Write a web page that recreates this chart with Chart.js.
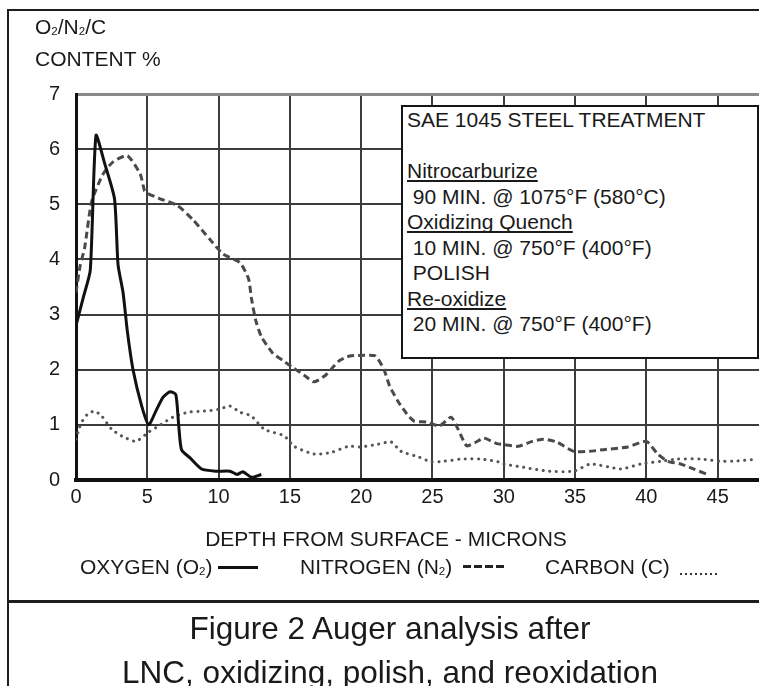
<!DOCTYPE html>
<html><head><meta charset="utf-8">
<script src="https://cdn.jsdelivr.net/npm/chart.js@4.4.1/dist/chart.umd.min.js"></script>
<style>
html,body{margin:0;padding:0;background:#fff;}
#wrap{position:relative;width:759px;height:686px;overflow:hidden;font-family:"Liberation Sans",Arial,Helvetica,sans-serif;color:#1a1a1a;}
#c{position:absolute;left:0;top:0;}
.t{position:absolute;white-space:pre;font-size:21px;line-height:26px;}
.s{font-size:55%;vertical-align:-1px;line-height:0;}
.ln{position:absolute;background:#1e1e1e;}
#box{position:absolute;left:401px;top:105px;width:358px;height:254px;box-sizing:border-box;border:2px solid #151515;background:#fff;padding:0 0 0 4px;font-size:21px;line-height:25.5px;white-space:pre;z-index:2;}
#box u{text-decoration-thickness:1.5px;text-underline-offset:2px;text-decoration-skip-ink:none;}
</style></head>
<body>
<div id="wrap">
<canvas id="c" width="759" height="686"></canvas>
<div class="ln" style="left:7px;top:9px;width:2px;height:677px;"></div>
<div class="ln" style="left:7px;top:9px;width:752px;height:2px;"></div>
<div class="ln" style="left:7px;top:600px;width:752px;height:3px;"></div>
<div class="t" style="left:35px;top:14px;">O<span class="s">2</span>/N<span class="s">2</span>/C</div>
<div class="t" style="left:35px;top:46px;">CONTENT %</div>
<div id="box">SAE 1045 STEEL TREATMENT

<u>Nitrocarburize</u>
 90 MIN. @ 1075°F (580°C)
<u>Oxidizing Quench</u>
 10 MIN. @ 750°F (400°F)
 POLISH
<u>Re-oxidize</u>
 20 MIN. @ 750°F (400°F)</div>
<div class="t" style="left:0;width:772px;text-align:center;top:526px;">DEPTH FROM SURFACE - MICRONS</div>
<div class="t" style="left:80px;top:554px;">OXYGEN (O<span class="s">2</span>)</div>
<div class="ln" style="left:218px;top:566px;width:40px;height:2.5px;background:#111;"></div>
<div class="t" style="left:300px;top:554px;">NITROGEN (N<span class="s">2</span>)</div>
<div class="ln" style="left:463px;top:565px;width:42px;height:2.5px;background:repeating-linear-gradient(to right,#222 0 7.5px,transparent 7.5px 11px);"></div>
<div class="t" style="left:545px;top:554px;">CARBON (C)</div>
<div class="ln" style="left:680px;top:573px;width:40px;height:2px;background:repeating-linear-gradient(to right,#333 0 2px,transparent 2px 5px);"></div>
<div class="t" style="left:0;width:780px;text-align:center;top:606px;font-size:31.5px;line-height:44px;">Figure 2 Auger analysis after
LNC, oxidizing, polish, and reoxidation</div>
</div>
<script>
// ---- data (depth in microns, content in %) ----
const oxygenDepth = [0, 0.5, 1.0, 1.4, 2.0, 2.7, 2.95, 3.3, 3.6, 4.0, 4.6, 5.1, 5.6, 6.1, 6.6, 7.0, 7.2, 7.4, 8.0, 8.8, 9.8, 10.8, 11.3, 11.7, 12.3, 13.0];
const oxygenPct   = [2.8, 3.3, 3.8, 6.25, 5.75, 5.1, 3.9, 3.4, 2.7, 2.0, 1.35, 1.0, 1.25, 1.5, 1.6, 1.55, 1.0, 0.55, 0.4, 0.2, 0.16, 0.16, 0.1, 0.15, 0.05, 0.1];

const nitrogenDepth = [0, 0.3, 0.6, 1.1, 1.9, 2.6, 3.6, 4.5, 4.8, 5.0, 5.9, 7.1, 8.2, 9.4, 10.3, 11.5, 12.1, 12.3, 12.6, 13.0, 13.8, 14.6, 15.2, 16.0, 16.7, 17.5, 18.4, 19.2, 20.0, 21.0, 21.6, 22.0, 22.6, 23.2, 23.7, 24.6, 25.5, 26.3, 26.8, 27.4, 28.0, 28.6, 29.5, 30.1, 31.0, 32.0, 32.8, 33.7, 34.9, 36.0, 37.0, 38.7, 40.0, 40.8, 41.5, 42.4, 43.3, 44.3];
const nitrogenPct   = [3.4, 3.9, 4.2, 5.05, 5.55, 5.77, 5.88, 5.55, 5.25, 5.2, 5.1, 4.98, 4.72, 4.36, 4.1, 3.94, 3.65, 3.3, 2.9, 2.6, 2.3, 2.15, 2.04, 1.9, 1.78, 1.9, 2.15, 2.25, 2.26, 2.25, 2.0, 1.7, 1.42, 1.2, 1.07, 1.05, 0.98, 1.14, 0.92, 0.62, 0.68, 0.76, 0.66, 0.64, 0.61, 0.7, 0.74, 0.69, 0.52, 0.52, 0.55, 0.6, 0.7, 0.47, 0.34, 0.29, 0.2, 0.1];

const carbonDepth = [0, 0.2, 0.4, 0.8, 1.3, 1.8, 2.5, 3.2, 4.2, 5.1, 5.8, 6.8, 7.9, 9.0, 10.0, 10.8, 11.5, 12.3, 13.2, 14.6, 15.3, 16.7, 17.9, 19.1, 20.0, 21.2, 22.1, 22.8, 24.0, 24.9, 25.8, 27.0, 28.4, 29.6, 30.0, 31.4, 33.1, 34.9, 36.1, 38.2, 39.6, 41.0, 42.2, 43.8, 45.2, 46.1, 47.8];
const carbonPct   = [0.74, 0.92, 1.05, 1.19, 1.25, 1.16, 0.92, 0.8, 0.7, 0.87, 0.98, 1.14, 1.23, 1.25, 1.28, 1.34, 1.23, 1.16, 0.92, 0.8, 0.61, 0.47, 0.5, 0.61, 0.6, 0.65, 0.69, 0.52, 0.42, 0.33, 0.34, 0.38, 0.38, 0.33, 0.29, 0.23, 0.16, 0.16, 0.29, 0.2, 0.29, 0.34, 0.38, 0.38, 0.34, 0.34, 0.38];

const xTickValues = [0, 5, 10, 15, 20, 25, 30, 35, 40, 45];
const yTickValues = [0, 1, 2, 3, 4, 5, 6, 7];

const toPts = (xs, ys) => xs.map((x, i) => ({x: x, y: ys[i]}));
const FONT = '"Liberation Sans", Arial, Helvetica, sans-serif';

new Chart(document.getElementById('c'), {
  type: 'line',
  data: {
    datasets: [
      {label: 'OXYGEN (O2)', data: toPts(oxygenDepth, oxygenPct), borderColor: '#111', borderWidth: 3, pointRadius: 0, tension: 0.2, fill: false},
      {label: 'NITROGEN (N2)', data: toPts(nitrogenDepth, nitrogenPct), borderColor: '#4a4a4a', borderWidth: 3, borderDash: [7, 4], pointRadius: 0, tension: 0.2, fill: false},
      {label: 'CARBON (C)', data: toPts(carbonDepth, carbonPct), borderColor: '#555', borderWidth: 3, borderDash: [0.1, 6.5], borderCapStyle: 'round', pointRadius: 0, tension: 0.2, fill: false}
    ]
  },
  options: {
    responsive: false,
    animation: false,
    plugins: {legend: {display: false}, tooltip: {enabled: false}},
    layout: {padding: {left: 10, top: 94, right: 0, bottom: 166}},
    scales: {
      x: {
        type: 'linear', min: 0, max: 47.9,
        afterBuildTicks: s => { s.ticks = xTickValues.map(v => ({value: v})); },
        afterFit: s => { s.height = 40; },
        ticks: {padding: 5, color: '#1a1a1a', font: {size: 20, family: FONT}, maxRotation: 0, autoSkip: false},
        grid: {color: '#3c3c3c', lineWidth: 2, drawTicks: false},
        border: {color: '#111', width: 4}
      },
      y: {
        min: 0, max: 7,
        afterBuildTicks: s => { s.ticks = yTickValues.map(v => ({value: v})); },
        afterFit: s => { s.width = 66; },
        ticks: {padding: 16, color: '#1a1a1a', font: {size: 20, family: FONT}},
        grid: {
          color: c => (c.tick && c.tick.value === 7) ? '#8a8a8a' : '#3c3c3c',
          lineWidth: c => (c.tick && c.tick.value === 7) ? 3 : 2,
          drawTicks: false
        },
        border: {color: '#111', width: 3}
      }
    }
  }
});
</script>
</body></html>
